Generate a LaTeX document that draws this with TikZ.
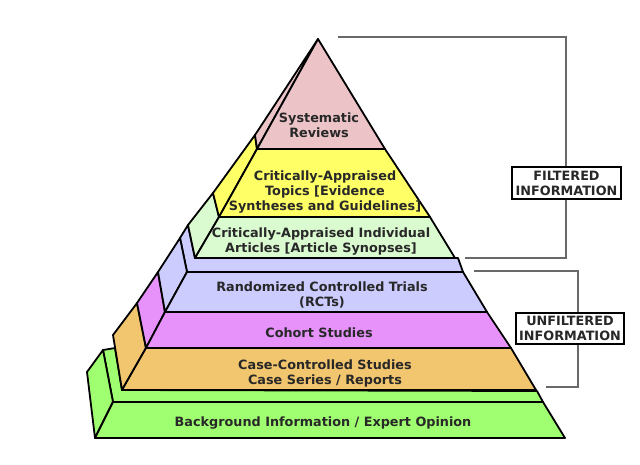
\documentclass[tikz,border=0pt]{standalone}
\usepackage{fontspec}
\setmainfont{DejaVu Sans}
\definecolor{cpink}{RGB}{236,196,200}
\definecolor{cyellow}{RGB}{255,255,102}
\definecolor{clgreen}{RGB}{218,250,208}
\definecolor{cblue}{RGB}{204,204,255}
\definecolor{cmag}{RGB}{230,146,250}
\definecolor{corange}{RGB}{242,198,110}
\definecolor{cgreen}{RGB}{160,255,112}
\definecolor{ctext}{RGB}{40,40,40}
\definecolor{cbracket}{RGB}{105,105,105}
\tikzset{
  face/.style={draw=black, line width=1.8pt, line join=round},
  lbl/.style={align=center, text=ctext, font=\bfseries\fontsize{12.8}{15}\selectfont, inner sep=0pt},
  infobox/.style={draw=black, line width=1.8pt, fill=white, align=center, text=ctext,
    font=\bfseries\fontsize{12.8}{15}\selectfont, inner xsep=3.5pt, inner ysep=3.5pt},
  bracket/.style={draw=cbracket, line width=1.3pt}
}
\begin{document}
\begin{tikzpicture}[x=1pt,y=-1pt]
\useasboundingbox (0,0) rectangle (640,464);
\fill[white] (0,0) rectangle (640,464);
% ---- green base
\filldraw[face, fill=cgreen] (113,402) -- (103,350) -- (115,348) -- (122,390) -- (537,391) -- (543,402) -- cycle;
\filldraw[face, fill=cgreen] (95,438) -- (113,402) -- (103,350) -- (87,372) -- cycle;
\filldraw[face, fill=cgreen] (95,438) -- (565,438) -- (543,402) -- (113,402) -- cycle;
% ---- orange
\filldraw[face, fill=corange] (122,390) -- (146,348) -- (137,303) -- (113,335) -- cycle;
\filldraw[face, fill=corange] (122,390) -- (536,390) -- (511,348) -- (146,348) -- cycle;
% ---- magenta
\filldraw[face, fill=cmag] (146,348) -- (165,312) -- (158,272) -- (137,303) -- cycle;
\filldraw[face, fill=cmag] (146,348) -- (511,348) -- (487,312) -- (165,312) -- cycle;
% ---- blue
\filldraw[face, fill=cblue] (187,272) -- (180,238) -- (188,225) -- (195,258) -- (458,258) -- (463,272) -- cycle;
\filldraw[face, fill=cblue] (165,312) -- (187,272) -- (180,238) -- (158,272) -- cycle;
\filldraw[face, fill=cblue] (165,312) -- (487,312) -- (463,272) -- (187,272) -- cycle;
% ---- light green
\filldraw[face, fill=clgreen] (195,258) -- (219,217) -- (213,193) -- (188,225) -- cycle;
\filldraw[face, fill=clgreen] (195,258) -- (455,258) -- (430,217) -- (219,217) -- cycle;
% ---- yellow
\filldraw[face, fill=cyellow] (219,217) -- (257,149) -- (255,135) -- (213,193) -- cycle;
\filldraw[face, fill=cyellow] (219,217) -- (430,217) -- (385,149) -- (257,149) -- cycle;
% ---- pink
\filldraw[face, fill=cpink] (257,149) -- (318,39) -- (255,135) -- cycle;
\filldraw[face, fill=cpink] (257,149) -- (385,149) -- (318,39) -- cycle;
% ---- labels
\node[lbl] (sr) at (319,125) {Systematic\\Reviews};
\node[lbl] (cat) at (325,192) {Critically-Appraised\\Topics [Evidence\\Syntheses and Guidelines]};
\node[lbl] (cai) at (321,241.5) {Critically-Appraised Individual\\Articles [Article Synopses]};
\node[lbl] (rct) at (322,295) {Randomized Controlled Trials\\(RCTs)};
\node[lbl] (coh) at (319,333) {Cohort Studies};
\node[lbl] (ccs) at (325,373.5) {Case-Controlled Studies\\Case Series / Reports};
\node[lbl] (bg) at (323,423) {Background Information / Expert Opinion};
% ---- brackets
\node[infobox] (filt) at (566.5,183) {FILTERED\\INFORMATION};
\node[infobox] (ufilt) at (570,328.5) {UNFILTERED\\INFORMATION};
\coordinate (ft) at (338,37);
\coordinate (fc) at (566,37);
\coordinate (fb) at (465,258);
\draw[bracket] (ft) -- (fc) -- (fc |- filt.north);
\draw[bracket] (fc |- filt.south) |- (fb);
\coordinate (ut) at (474,271);
\coordinate (uc) at (578,271);
\coordinate (ub) at (546,387);
\draw[bracket] (ut) -- (uc) -- (uc |- ufilt.north);
\draw[bracket] (uc |- ufilt.south) |- (ub);
\end{tikzpicture}
\end{document}
